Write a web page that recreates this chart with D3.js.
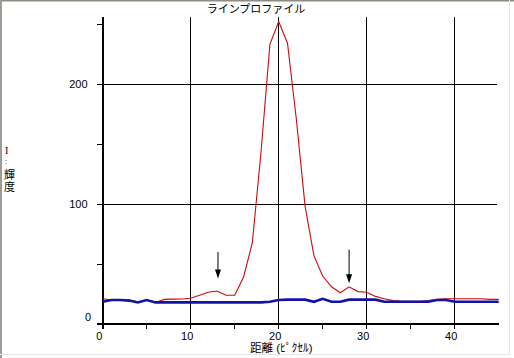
<!DOCTYPE html>
<html>
<head>
<meta charset="utf-8">
<script src="https://cdn.jsdelivr.net/npm/d3@7"></script>
<style>
  body { margin: 0; background: #fff; }
  text { font-family: "Liberation Sans", "Noto Sans CJK JP", sans-serif; font-size: 11px; fill: #000; }
</style>
</head>
<body>
<div id="chart"></div>
<script>
const title = "ラインプロファイル";
const xLabel = "距離 (ﾋﾟｸｾﾙ)";
const yLabel = ["I", ":", "輝", "度"];

const distance = [0, 1, 2, 3, 4, 5, 6, 7, 8, 9, 10, 11, 12, 13, 14, 15, 16, 17, 18, 19, 20, 21, 22,
  23, 24, 25, 26, 27, 28, 29, 30, 31, 32, 33, 34, 35, 36, 37, 38, 39, 40, 41, 42, 43, 44, 45];
const profile = [21, 20, 20, 20, 18.5, 20, 18, 20.5, 20.7, 20.8, 21.5, 24, 26.5, 27.5, 24, 24, 39, 67.5,
  144, 233, 252, 234, 171, 98, 57, 40, 31, 26, 31, 27, 26.5, 23, 21, 19.5, 19, 19, 19, 19.5, 20.5, 21,
  21, 21, 21, 21, 20.5, 20.5];
const baseline = [18.6, 20, 20, 19.5, 18, 20, 18, 18, 18, 18, 18, 18, 18, 18, 18, 18, 18, 18, 18, 18.5,
  20, 20.3, 20.3, 20.3, 18.5, 21, 18.5, 18.5, 20.3, 20.3, 20.3, 20.3, 18.6, 18.6, 18.6, 18.6, 18.6, 18.6,
  20, 20, 18.6, 18.6, 18.6, 18.6, 18.6, 18.6];

const xGrid = [10, 20, 30, 40];
const xMinor = [5, 15, 25, 35];
const xTickLabels = [0, 10, 20, 30, 40];
const yGrid = [100, 200];
const yMinor = [50, 150, 250];
const yTickLabels = [0, 100, 200];
// arrows pointing at the two side peaks (x, top value, tip value)
const arrows = [[13.1, 60, 38], [28, 62, 34]];

const width = 514, height = 358;
const svg = d3.select("#chart").append("svg").attr("width", width).attr("height", height);

// window frame
svg.append("rect").attr("width", width).attr("height", height).attr("fill", "#fff");
svg.append("line").attr("x1", 0).attr("x2", width).attr("y1", 0.5).attr("y2", 0.5).attr("stroke", "#8c8c80").attr("stroke-width", 2);
svg.append("line").attr("x1", 1).attr("x2", 1).attr("y1", 0).attr("y2", height).attr("stroke", "#9c9c94").attr("stroke-width", 2);
svg.append("line").attr("x1", 509.5).attr("x2", 509.5).attr("y1", 0).attr("y2", 355).attr("stroke", "#e6e6e6");
svg.append("line").attr("x1", 0).attr("x2", 510).attr("y1", 354.5).attr("y2", 354.5).attr("stroke", "#e6e6e6");

const x = d3.scaleLinear().domain([0, 45]).range([102.7, 498.7]);
const y = d3.scaleLinear().domain([0, 256]).range([324, 16.8]);

const g = svg.append("g").attr("shape-rendering", "crispEdges");

// grid lines
g.selectAll(".vg").data(xGrid).join("line")
  .attr("x1", d => x(d)).attr("x2", d => x(d))
  .attr("y1", y(256)).attr("y2", y(0) + 5)
  .attr("stroke", "#000");
g.selectAll(".hg").data(yGrid).join("line")
  .attr("x1", x(0) - 6).attr("x2", x(45) - 2)
  .attr("y1", d => y(d)).attr("y2", d => y(d))
  .attr("stroke", "#000");

// minor ticks
g.selectAll(".xm").data(xMinor).join("line")
  .attr("x1", d => x(d)).attr("x2", d => x(d))
  .attr("y1", y(0)).attr("y2", y(0) + 5)
  .attr("stroke", "#000");
g.selectAll(".ym").data(yMinor).join("line")
  .attr("x1", x(0) - 6).attr("x2", x(0))
  .attr("y1", d => y(d)).attr("y2", d => y(d))
  .attr("stroke", "#000");

// axes
g.append("line").attr("x1", x(0) - 6).attr("x2", x(45)).attr("y1", y(0)).attr("y2", y(0))
  .attr("stroke", "#000").attr("stroke-width", 2);
g.append("line").attr("x1", x(0)).attr("x2", x(0)).attr("y1", y(256)).attr("y2", y(0) + 5)
  .attr("stroke", "#000").attr("stroke-width", 2);

// data lines
const line = d3.line().x((d, i) => x(distance[i])).y(d => y(d));
svg.append("path").datum(profile).attr("d", line)
  .attr("fill", "none").attr("stroke", "#cc0a0a").attr("stroke-width", 1.1);
svg.append("path").datum(baseline).attr("d", line)
  .attr("fill", "none").attr("stroke", "#1212a8").attr("stroke-width", 2.6);

// arrows
arrows.forEach(([ax, top, tip]) => {
  svg.append("line").attr("x1", x(ax)).attr("x2", x(ax)).attr("y1", y(top)).attr("y2", y(tip) - 6)
    .attr("stroke", "#000").attr("stroke-width", 1);
  svg.append("path")
    .attr("d", `M${x(ax) - 3},${y(tip) - 9}L${x(ax) + 3},${y(tip) - 9}L${x(ax)},${y(tip)}Z`)
    .attr("fill", "#000");
});

// tick labels
svg.selectAll(".xl").data(xTickLabels).join("text")
  .attr("x", d => x(d) - 3.5).attr("y", y(0) + 12)
  .attr("text-anchor", "middle").attr("dominant-baseline", "central")
  .text(d => d);
svg.selectAll(".yl").data(yTickLabels).join("text")
  .attr("x", d => d === 0 ? 91 : 87.5)
  .attr("y", d => d === 0 ? y(d) - 7 : y(d))
  .attr("text-anchor", "end").attr("dominant-baseline", "central")
  .text(d => d);

// titles
svg.append("text").attr("x", 256).attr("y", 8.5)
  .attr("text-anchor", "middle").attr("dominant-baseline", "central").text(title);
svg.append("text").attr("x", 250).attr("y", 348)
  .attr("dominant-baseline", "central").style("font-size", "11.5px").text(xLabel);
const yOff = [0, 11, 25, 37];
const ySize = [10, 8, 11, 11];
svg.selectAll(".ylab").data(yLabel).join("text")
  .attr("x", (d, i) => i < 2 ? 5 : 4).attr("y", (d, i) => 150 + yOff[i])
  .attr("dominant-baseline", "central")
  .style("font-family", (d, i) => i === 0 ? "'Liberation Serif', serif" : null)
  .style("font-size", (d, i) => ySize[i] + "px")
  .text(d => d);
</script>
</body>
</html>
